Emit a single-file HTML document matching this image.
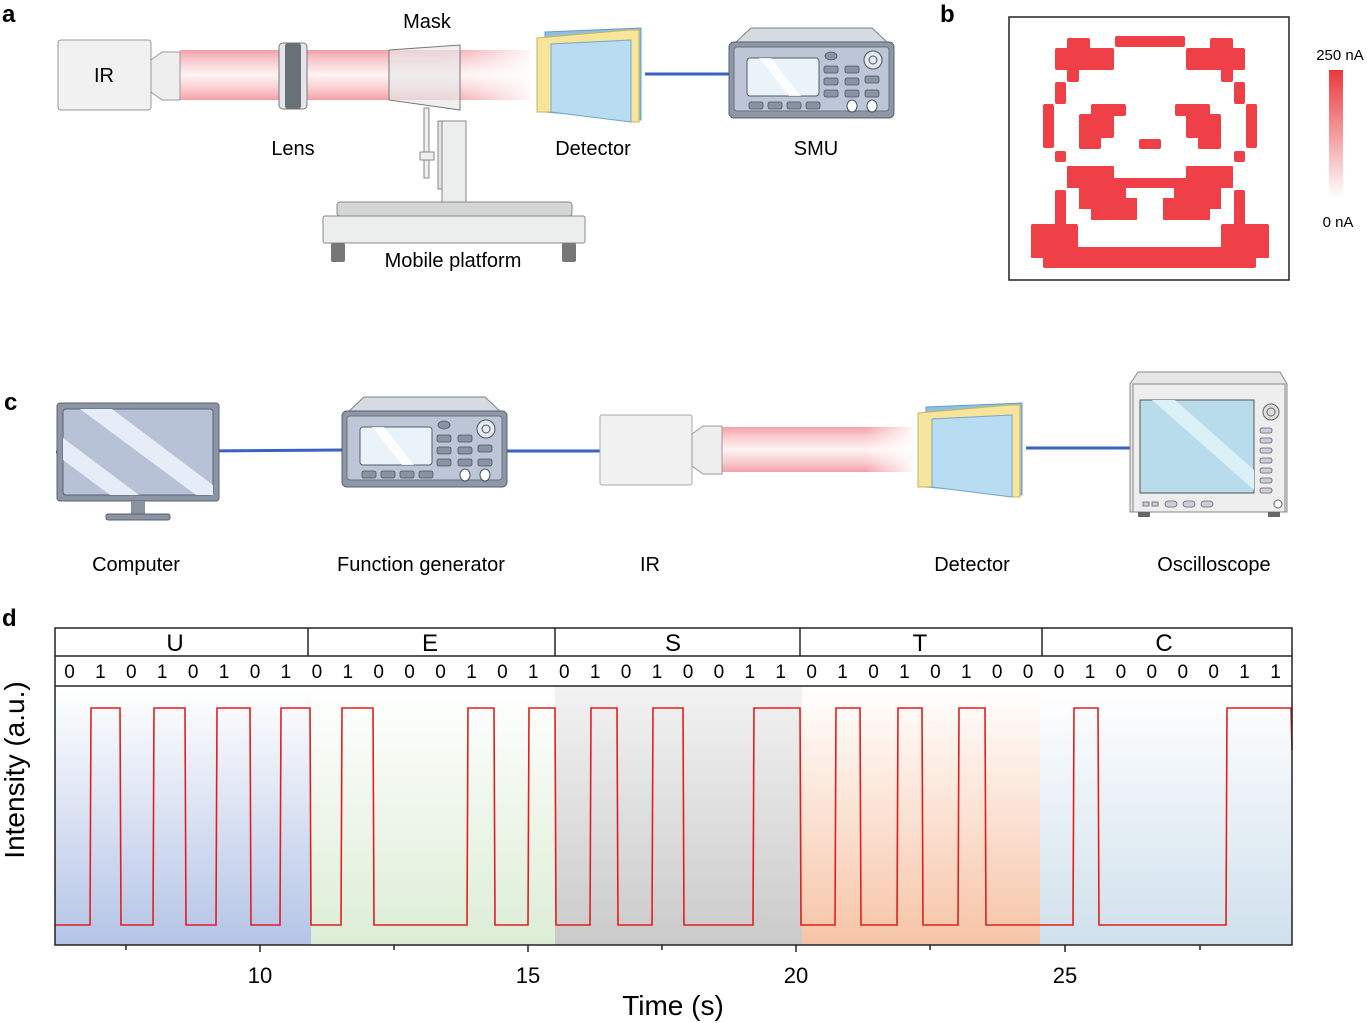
<!DOCTYPE html>
<html><head><meta charset="utf-8"><style>
html,body{margin:0;padding:0;background:#fff}
svg{display:block;font-family:"Liberation Sans",Arial,sans-serif}
</style></head><body>
<svg id="s" width="1367" height="1023" viewBox="0 0 1367 1023" xmlns="http://www.w3.org/2000/svg">
<defs>
<linearGradient id="beam" x1="0" y1="0" x2="0" y2="1">
<stop offset="0" stop-color="#f4a0a8"/><stop offset="0.2" stop-color="#f8c8cc"/><stop offset="0.5" stop-color="#fff4f4"/><stop offset="0.8" stop-color="#f8c8cc"/><stop offset="1" stop-color="#f4a0a8"/></linearGradient>
<linearGradient id="beamfade" x1="0" y1="0" x2="1" y2="0">
<stop offset="0" stop-color="#fff" stop-opacity="0"/><stop offset="0.75" stop-color="#fff" stop-opacity="0"/><stop offset="1" stop-color="#fff" stop-opacity="0.9"/></linearGradient>
<linearGradient id="cbar" x1="0" y1="0" x2="0" y2="1"><stop offset="0" stop-color="#e8383e"/><stop offset="1" stop-color="#fff"/></linearGradient>
<linearGradient id="gb" x1="0" y1="0" x2="0" y2="1"><stop offset="0" stop-color="#fff"/><stop offset="1" stop-color="#b4c4e6"/></linearGradient>
<linearGradient id="gg" x1="0" y1="0" x2="0" y2="1"><stop offset="0" stop-color="#fff"/><stop offset="1" stop-color="#dcedd6"/></linearGradient>
<linearGradient id="gy" x1="0" y1="0" x2="0" y2="1"><stop offset="0" stop-color="#f2f2f2"/><stop offset="1" stop-color="#cacaca"/></linearGradient>
<linearGradient id="go" x1="0" y1="0" x2="0" y2="1"><stop offset="0" stop-color="#fff"/><stop offset="1" stop-color="#f6c4a6"/></linearGradient>
<linearGradient id="gl" x1="0" y1="0" x2="0" y2="1"><stop offset="0" stop-color="#fff"/><stop offset="1" stop-color="#cfe0ec"/></linearGradient>
<g id="inst">
<path d="M22,0 H143 L160,16 H5 Z" fill="#d6dbe2" stroke="#7a8290" stroke-width="1"/>
<rect x="0" y="14" width="165" height="76" rx="5" fill="#8e97a6" stroke="#5a6270"/>
<rect x="5" y="19" width="155" height="64" rx="3" fill="#bcc6d6" stroke="#6a7280"/>
<rect x="18" y="30" width="72" height="38" rx="3" fill="#eaf3fa" stroke="#555c66"/>
<path d="M30,30 L60,68 H72 L42,30Z" fill="#fff" opacity="0.8"/>
<g fill="#8a93a2" stroke="#4d5460" stroke-width="0.8">
<rect x="20" y="74" width="14" height="7" rx="2"/><rect x="39" y="74" width="14" height="7" rx="2"/><rect x="58" y="74" width="14" height="7" rx="2"/><rect x="77" y="74" width="14" height="7" rx="2"/>
<rect x="95" y="38" width="14" height="7" rx="2"/><rect x="116" y="38" width="14" height="7" rx="2"/>
<rect x="95" y="50" width="14" height="7" rx="2"/><rect x="116" y="50" width="14" height="7" rx="2"/><rect x="136" y="48" width="14" height="7" rx="2"/>
<rect x="95" y="62" width="14" height="7" rx="2"/><rect x="116" y="62" width="14" height="7" rx="2"/><rect x="136" y="62" width="14" height="7" rx="2"/>
<ellipse cx="102" cy="28" rx="6" ry="4"/>
</g>
<circle cx="144" cy="32" r="9" fill="#e6eaf0" stroke="#4d5460"/><circle cx="144" cy="32" r="4" fill="none" stroke="#4d5460"/>
<ellipse cx="123" cy="78" rx="5" ry="6" fill="#fff" stroke="#4d5460"/><ellipse cx="143" cy="78" rx="5" ry="6" fill="#fff" stroke="#4d5460"/>
</g>
<g id="det">
<path d="M8,4 L104,0 V92 L8,84Z" fill="#8fc0e0" stroke="#6a9ac0"/>
<path d="M0,10 L92,2 H102 V94 H94 V12 L14,16 V84 H0Z" fill="#f6e59a" stroke="#c8b560"/>
<path d="M14,16 L94,12 V94 L14,84Z" fill="#b8dcf2" stroke="#7aa8c8"/>
</g>
</defs>

<g font-weight="bold" font-size="24" fill="#000">
<text x="2" y="22">a</text><text x="940" y="22">b</text><text x="4" y="410">c</text><text x="2" y="626">d</text>
</g>

<rect x="180" y="50" width="350" height="50" fill="url(#beam)"/>
<rect x="180" y="50" width="350" height="50" fill="url(#beamfade)"/>
<rect x="58" y="40" width="93" height="70" rx="3" fill="#f1f1f1" stroke="#999"/>
<text x="104" y="82" font-size="20" text-anchor="middle">IR</text>
<path d="M151,60 L162,52 H180 V100 H162 L151,92Z" fill="#eee" stroke="#999"/>
<rect x="279" y="43" width="28" height="66" rx="4" fill="#e4e6ea" stroke="#777"/>
<rect x="285" y="43" width="16" height="66" rx="3" fill="#6a7078"/>
<path d="M389,50 L460,45 V110 L389,100Z" fill="#e8e8ea" fill-opacity="0.7" stroke="#777"/>
<text x="427" y="28" font-size="20" text-anchor="middle">Mask</text>
<rect x="424" y="108" width="5" height="70" fill="#eee" stroke="#888"/>
<rect x="420" y="152" width="14" height="8" fill="#eee" stroke="#888"/>
<rect x="438" y="121" width="7" height="68" fill="#e4e4e4" stroke="#888"/>
<rect x="442" y="121" width="24" height="90" fill="#eceeee" stroke="#888"/>
<rect x="337" y="202" width="235" height="14" rx="3" fill="#d4d6d4" stroke="#888"/>
<rect x="323" y="216" width="262" height="27" rx="2" fill="#eceeee" stroke="#888"/>
<rect x="331" y="243" width="14" height="19" rx="2" fill="#777"/>
<rect x="562" y="243" width="14" height="19" rx="2" fill="#777"/>
<text x="293" y="155" font-size="20" text-anchor="middle">Lens</text>
<text x="593" y="155" font-size="20" text-anchor="middle">Detector</text>
<text x="816" y="155" font-size="20" text-anchor="middle">SMU</text>
<text x="453" y="267" font-size="20" text-anchor="middle">Mobile platform</text>
<line x1="645" y1="74" x2="730" y2="74" stroke="#3a62c0" stroke-width="3"/>
<use href="#det" x="537" y="28"/>
<use href="#inst" x="729" y="28"/>

<rect x="1009" y="17" width="280" height="263" fill="#fff" stroke="#222" stroke-width="1.5"/>
<g fill="#ee4046">
<rect x="1115" y="36" width="70" height="11" rx="2"/>
<rect x="1067" y="38" width="23" height="32" rx="2"/><rect x="1055" y="48" width="59" height="22" rx="2"/><rect x="1067" y="68" width="12" height="14" rx="2"/>
<rect x="1210" y="38" width="23" height="32" rx="2"/><rect x="1186" y="48" width="59" height="22" rx="2"/><rect x="1221" y="68" width="12" height="14" rx="2"/>
<rect x="1055" y="82" width="11" height="22" rx="2"/><rect x="1043" y="104" width="11" height="44" rx="2"/><rect x="1055" y="151" width="11" height="11" rx="2"/>
<rect x="1234" y="82" width="11" height="22" rx="2"/><rect x="1246" y="104" width="11" height="44" rx="2"/><rect x="1234" y="151" width="11" height="11" rx="2"/>
<rect x="1091" y="104" width="35" height="12" rx="2"/><rect x="1079" y="114" width="35" height="24" rx="2"/><rect x="1079" y="136" width="22" height="13" rx="2"/>
<rect x="1175" y="104" width="35" height="12" rx="2"/><rect x="1186" y="114" width="35" height="24" rx="2"/><rect x="1198" y="136" width="23" height="13" rx="2"/>
<rect x="1139" y="139" width="22" height="10" rx="2"/>
<rect x="1067" y="166" width="47" height="14" rx="1"/><rect x="1186" y="166" width="47" height="14" rx="1"/>
<rect x="1067" y="178" width="166" height="10"/>
<rect x="1079" y="186" width="47" height="14"/><rect x="1079" y="198" width="58" height="11"/><rect x="1091" y="207" width="46" height="13" rx="1"/>
<rect x="1174" y="186" width="47" height="14"/><rect x="1163" y="198" width="58" height="11"/><rect x="1163" y="207" width="47" height="13" rx="1"/>
<rect x="1055" y="190" width="11" height="36" rx="2"/><rect x="1234" y="190" width="11" height="36" rx="2"/>
<rect x="1031" y="224" width="47" height="25" rx="2"/><rect x="1221" y="224" width="48" height="25" rx="2"/>
<rect x="1031" y="247" width="238" height="11" rx="1"/><rect x="1043" y="256" width="213" height="12" rx="2"/>
</g>
<rect x="1329" y="70" width="14" height="128" fill="url(#cbar)"/>
<text x="1340" y="60" font-size="15" text-anchor="middle">250 nA</text>
<text x="1338" y="227" font-size="15" text-anchor="middle">0 nA</text>

<g stroke="#3a62c0" stroke-width="3">
<line x1="56" y1="452" x2="342" y2="450"/><line x1="507" y1="451" x2="600" y2="451"/><line x1="1026" y1="448" x2="1132" y2="448"/></g>
<rect x="57" y="403" width="162" height="98" rx="3" fill="#8c95a6" stroke="#5a6270"/>
<rect x="63" y="409" width="150" height="86" rx="3" fill="#b8c2d6" stroke="#5a6270"/>
<path d="M80,409 H112 L213,485 V495 H196Z M63,438 L139,495 H110 L63,460Z" fill="#e6ecf8"/>
<rect x="131" y="501" width="14" height="14" fill="#8a93a2"/>
<rect x="106" y="514" width="64" height="6" rx="2" fill="#8a93a2" stroke="#5a6270"/>
<use href="#inst" x="342" y="397"/>
<rect x="722" y="427" width="190" height="45" fill="url(#beam)"/>
<rect x="722" y="427" width="190" height="45" fill="url(#beamfade)"/>
<rect x="600" y="415" width="92" height="70" rx="2" fill="#f1f1f1" stroke="#aaa"/>
<path d="M692,434 L703,426 H722 V474 H703 L692,466Z" fill="#eee" stroke="#999"/>
<use href="#det" x="918" y="403"/>
<path d="M1138,372 H1280 L1287,384 V512 H1130 V384Z" fill="#e6e6e6" stroke="#888"/>
<rect x="1133" y="384" width="152" height="128" fill="#eeeeee" stroke="#888"/>
<rect x="1140" y="400" width="114" height="93" fill="#b8dcec" stroke="#555"/>
<path d="M1152,400 H1175 L1254,470 V490Z" fill="#dcf0f8"/>
<circle cx="1271" cy="412" r="8" fill="#ddd" stroke="#666"/><circle cx="1271" cy="412" r="4" fill="none" stroke="#666"/>
<g fill="#ccd" stroke="#666" stroke-width="0.8">
<rect x="1260" y="428" width="12" height="5" rx="2"/><rect x="1260" y="438" width="12" height="5" rx="2"/><rect x="1260" y="448" width="12" height="5" rx="2"/><rect x="1260" y="458" width="12" height="5" rx="2"/><rect x="1260" y="468" width="12" height="5" rx="2"/><rect x="1260" y="478" width="12" height="5" rx="2"/><rect x="1260" y="488" width="12" height="5" rx="2"/>
<rect x="1165" y="501" width="12" height="6" rx="3"/><rect x="1183" y="501" width="12" height="6" rx="3"/><rect x="1201" y="501" width="12" height="6" rx="3"/><rect x="1143" y="502" width="6" height="4"/><rect x="1152" y="502" width="6" height="4"/>
</g>
<circle cx="1278" cy="504" r="4" fill="#fff" stroke="#666"/>
<rect x="1138" y="512" width="12" height="5" fill="#666"/><rect x="1268" y="512" width="12" height="5" fill="#666"/>
<g font-size="20" text-anchor="middle">
<text x="136" y="571">Computer</text><text x="421" y="571">Function generator</text><text x="650" y="571">IR</text><text x="972" y="571">Detector</text><text x="1214" y="571">Oscilloscope</text></g>

<rect x="55" y="686" width="256" height="259" fill="url(#gb)"/>
<rect x="311" y="686" width="244" height="259" fill="url(#gg)"/>
<rect x="555" y="686" width="247" height="259" fill="url(#gy)"/>
<rect x="802" y="686" width="238" height="259" fill="url(#go)"/>
<rect x="1040" y="686" width="252" height="259" fill="url(#gl)"/>
<path id="trace" d="" fill="none" stroke="#e0201e" stroke-width="1.6"/>
<rect x="55" y="628" width="1237" height="317" fill="none" stroke="#222" stroke-width="1.5"/>
<line x1="55" y1="656" x2="1292" y2="656" stroke="#222" stroke-width="1.5"/>
<line x1="55" y1="686" x2="1292" y2="686" stroke="#222" stroke-width="1.5"/>
<g stroke="#222" stroke-width="1.5"><line x1="308" y1="628" x2="308" y2="656"/><line x1="555" y1="628" x2="555" y2="656"/><line x1="800" y1="628" x2="800" y2="656"/><line x1="1042" y1="628" x2="1042" y2="656"/></g>
<g font-size="24" text-anchor="middle"><text x="175" y="651">U</text><text x="430" y="651">E</text><text x="673" y="651">S</text><text x="920" y="651">T</text><text x="1164" y="651">C</text></g>
<g id="bits" font-size="19" text-anchor="middle"></g>
<g stroke="#222" stroke-width="1.5">
<line x1="126" y1="945" x2="126" y2="950"/><line x1="260" y1="945" x2="260" y2="952"/><line x1="394" y1="945" x2="394" y2="950"/><line x1="528" y1="945" x2="528" y2="952"/><line x1="662" y1="945" x2="662" y2="950"/><line x1="796" y1="945" x2="796" y2="952"/><line x1="930" y1="945" x2="930" y2="950"/><line x1="1065" y1="945" x2="1065" y2="952"/><line x1="1200" y1="945" x2="1200" y2="950"/></g>
<g font-size="22" text-anchor="middle"><text x="260" y="983">10</text><text x="528" y="983">15</text><text x="796" y="983">20</text><text x="1065" y="983">25</text></g>
<text x="673" y="1015" font-size="28" text-anchor="middle">Time (s)</text>
<text transform="translate(24,770) rotate(-90)" font-size="28" text-anchor="middle">Intensity (a.u.)</text>
</svg>
<script>
var bits="0101010101000101010100110101010001000011";
var x0=55,w=1237/40,hi=708,lo=925,ns="http://www.w3.org/2000/svg",g=document.getElementById("bits");
for(var i=0;i<40;i++){var t=document.createElementNS(ns,"text");t.setAttribute("x",(x0+i*w+w/2-1).toFixed(1));t.setAttribute("y","678");t.textContent=bits[i];g.appendChild(t);}
var P=[[90,120],[153,185],[216,250],[280,310],[341,373],[467,494],[528,555],[590,617],[652,683],[753,800],[835,860],[897,922],[958,985],[1073,1098],[1226,1290]];
var d="M55,"+lo;
P.forEach(function(p){d+=" L"+p[0]+","+lo+" L"+(p[0]+1)+","+hi+" L"+p[1]+","+hi+" L"+(p[1]+1)+","+lo;});
d+=" L1292,"+lo;
d="M55,"+lo;P.forEach(function(p,k){d+=" L"+p[0]+","+lo+" L"+(p[0]+1)+","+hi+" L"+p[1]+","+hi;if(k<P.length-1)d+=" L"+(p[1]+1)+","+lo;else d+=" L1291,"+hi+" L1292,750";});
document.getElementById("trace").setAttribute("d",d);
</script>
</body></html>
